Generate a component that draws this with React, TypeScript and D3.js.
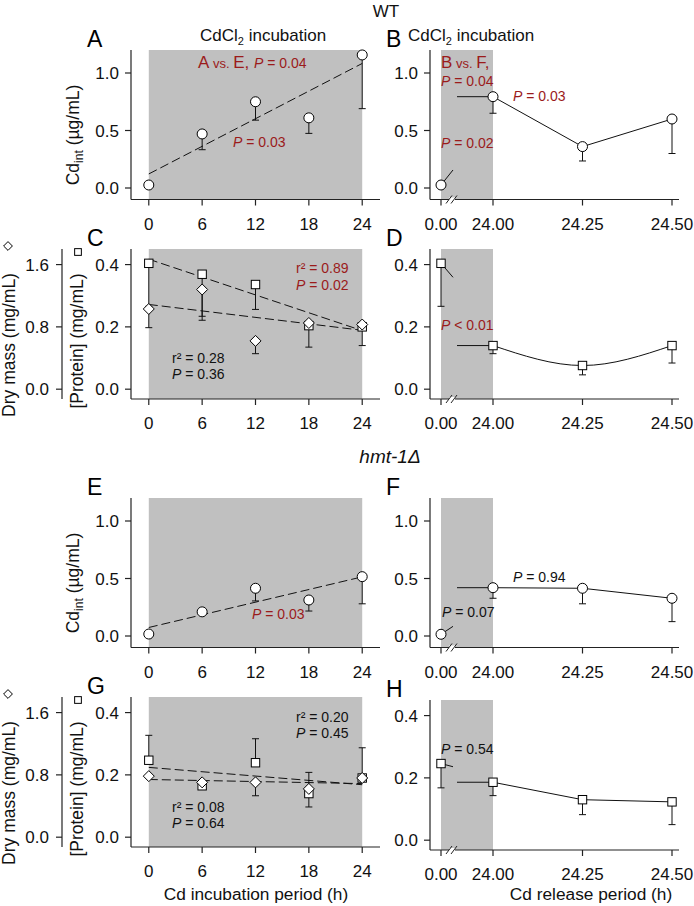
import React from 'react';
import * as d3 from 'd3';

// ---------- data ----------
const incTimes = [0, 6, 12, 18, 24];
const relTimes = [0, 24, 24.25, 24.5];
const incTicks = [0, 6, 12, 18, 24];
const relTicks = [0, 24, 24.25, 24.5];
const cdTicks = [0, 0.5, 1.0];
const proteinTicks = [0, 0.2, 0.4];
const dryTicks = [0, 0.8, 1.6];

// WT
const wtCdInc = [0.026, 0.47, 0.75, 0.61, 1.157];
const wtCdIncErr = [null, 0.333, 0.59, 0.475, 0.69];
const wtCdRel = [0.026, 0.794, 0.36, 0.6];
const wtCdRelErr = [null, 0.65, 0.235, 0.3];
const wtProtInc = [0.404, 0.369, 0.336, 0.204, 0.2];
const wtProtIncErr = [0.266, 0.234, 0.256, 0.135, 0.14];
const wtDryInc = [1.03, 1.28, 0.62, 0.85, 0.83];
const wtDryIncErr = [0.79, 0.885, 0.456, null, null];
const wtProtRel = [0.404, 0.14, 0.076, 0.14];
const wtProtRelErr = [0.266, 0.114, 0.046, 0.084];

// hmt-1Δ
const hmCdInc = [0.017, 0.21, 0.415, 0.313, 0.516];
const hmCdIncErr = [null, null, 0.305, 0.217, 0.28];
const hmCdRel = [0.015, 0.42, 0.415, 0.328];
const hmCdRelErr = [null, 0.328, 0.28, 0.125];
const hmProtInc = [0.247, 0.165, 0.239, 0.14, 0.19];
const hmProtIncErr = [0.327, null, 0.316, 0.097, null];
const hmDryInc = [0.784, 0.704, 0.704, 0.62, 0.76];
const hmDryIncErr = [null, null, 0.532, 0.832, 1.148];
const hmProtRel = [0.246, 0.186, 0.13, 0.123];
const hmProtRelErr = [0.168, 0.143, 0.082, 0.05];

const cdDomain: [number, number] = [-0.1, 1.2];
const protDomain: [number, number] = [-0.0315, 0.45];
const dryFactor = 4;

// ---------- styles ----------
const FONT = "'Liberation Sans', Arial, Helvetica, sans-serif";
const RED = '#9b1b1b';
const GRAY = '#c0c0c0';
const AX = '#222';
const TICK_FS = 17;
const NOTE_FS = 14;
const LABEL_FS = 17.5;

const xLeft = d3.scaleLinear().domain([-2, 26]).range([131, 380]);
const xRight = d3.scaleLinear().domain([0, 24, 24.5]).range([441, 493, 672]);

type Series = { values: number[]; err: (number | null)[]; type: 'circle' | 'square' | 'diamond'; dry?: boolean; regress?: boolean };
type Part = { t: string; s?: number; i?: boolean };
type Note = { x: number; y: number; color: string; parts: Part[] };

function linreg(xs: number[], ys: number[]) {
  const mx = d3.mean(xs)!;
  const my = d3.mean(ys)!;
  let sxy = 0, sxx = 0;
  xs.forEach((x, i) => { sxy += (x - mx) * (ys[i] - my); sxx += (x - mx) * (x - mx); });
  const b = sxy / sxx;
  return { a: my - b * mx, b };
}

function Marker({ type, x, y, small }: { type: string; x: number; y: number; small?: boolean }) {
  const k = small ? 0.8 : 1;
  if (type === 'circle') return <circle cx={x} cy={y} r={5} fill="#fff" stroke="#000" strokeWidth={1} />;
  if (type === 'square') { const h = 4.2 * k; return <rect x={x - h} y={y - h} width={2 * h} height={2 * h} fill="#fff" stroke="#000" strokeWidth={1} />; }
  const h = 5.5 * k;
  return <path d={`M${x},${y - h}L${x + h},${y}L${x},${y + h}L${x - h},${y}Z`} fill="#fff" stroke="#000" strokeWidth={1} />;
}

function NoteText({ n }: { n: Note }) {
  return (
    <text x={n.x} y={n.y} fill={n.color} fontSize={NOTE_FS} fontFamily={FONT}>
      {n.parts.map((p, i) => (
        <tspan key={i} fontSize={p.s ?? NOTE_FS} fontStyle={p.i ? 'italic' : 'normal'}>{p.t}</tspan>
      ))}
    </text>
  );
}

const pv = (v: string): Part[] => [{ t: 'P', i: true }, { t: v }];

type PanelProps = {
  side: 'left' | 'right';
  top: number;
  height: number;
  kind: 'cd' | 'prot';
  series: Series[];
  notes: Note[];
  letter: string;
  curve?: 'linear' | 'natural';
};

function Panel(p: PanelProps) {
  const left = p.side === 'left';
  const x = left ? xLeft : xRight;
  const axisX = left ? 131 : 430;
  const axisEnd = left ? 380 : 679;
  const bottom = p.top + p.height;
  const domain = p.kind === 'cd' ? cdDomain : protDomain;
  const y = d3.scaleLinear().domain(domain).range([bottom, p.top]);
  const yDry = d3.scaleLinear().domain([domain[0] * dryFactor, domain[1] * dryFactor]).range([bottom, p.top]);
  const xs = left ? incTimes : relTimes;
  const yTicks = p.kind === 'cd' ? cdTicks : proteinTicks;
  const yFmt = d3.format('.1f');
  const xTicks = left ? incTicks : relTicks;
  const xFmt = left ? (d: number) => String(d) : d3.format('.2f');

  const elements: React.ReactNode[] = [];

  // regression lines
  p.series.forEach((s, si) => {
    if (!s.regress) return;
    const ys = s.dry ? yDry : y;
    const { a, b } = linreg(xs, s.values);
    const line = d3.line<number>().x((t) => x(t)).y((t) => ys(a + b * t));
    elements.push(<path key={`reg${si}`} d={line([0, 24])!} fill="none" stroke="#111" strokeWidth={1} strokeDasharray="9,4" />);
  });

  // connecting lines (right panels)
  if (!left) {
    const s = p.series[0];
    const v = s.values;
    const stubT = 0.17;
    const stub = d3.line()([[x(0), y(v[0])], [453, y(v[0] + stubT * (v[1] - v[0]))]]);
    elements.push(<path key="stub" d={stub!} fill="none" stroke="#111" strokeWidth={1} />);
    const flat = d3.line()([[457, y(v[1])], [x(relTimes[1]), y(v[1])]]);
    elements.push(<path key="flat" d={flat!} fill="none" stroke="#111" strokeWidth={1} />);
    const rest = d3.line<number>()
      .x((_, i) => x(relTimes[i + 1]))
      .y((d) => y(d))
      .curve(p.curve === 'natural' ? d3.curveNatural : d3.curveLinear);
    elements.push(<path key="rest" d={rest(v.slice(1))!} fill="none" stroke="#111" strokeWidth={1} />);
  }

  // error bars
  p.series.forEach((s, si) => {
    const ys = s.dry ? yDry : y;
    s.err.forEach((e, i) => {
      if (e == null) return;
      const cx = x(xs[i]);
      elements.push(
        <g key={`err${si}-${i}`} stroke="#111" strokeWidth={1}>
          <line x1={cx} x2={cx} y1={ys(s.values[i])} y2={ys(e)} />
          <line x1={cx - 3.5} x2={cx + 3.5} y1={ys(e)} y2={ys(e)} />
        </g>
      );
    });
  });

  // markers
  p.series.forEach((s, si) => {
    const ys = s.dry ? yDry : y;
    s.values.forEach((v, i) => {
      elements.push(<Marker key={`m${si}-${i}`} type={s.type} x={x(xs[i])} y={ys(v)} />);
    });
  });

  return (
    <g>
      <rect x={x(0)} y={p.top} width={x(24) - x(0)} height={p.height} fill={GRAY} />
      {elements}
      {/* y axis */}
      <line x1={axisX} x2={axisX} y1={p.top} y2={bottom} stroke={AX} strokeWidth={1.2} />
      {yTicks.map((t) => (
        <g key={`yt${t}`}>
          <line x1={axisX - 6} x2={axisX} y1={y(t)} y2={y(t)} stroke={AX} strokeWidth={1.2} />
          <text x={axisX - 12} y={y(t) + 6} textAnchor="end" fontSize={TICK_FS} fontFamily={FONT} fill="#111">{yFmt(t)}</text>
        </g>
      ))}
      {/* dry mass axis */}
      {left && p.kind === 'prot' && (
        <g>
          <line x1={62} x2={62} y1={p.top} y2={bottom} stroke={AX} strokeWidth={1.2} />
          {dryTicks.map((t) => (
            <g key={`dt${t}`}>
              <line x1={56} x2={62} y1={yDry(t)} y2={yDry(t)} stroke={AX} strokeWidth={1.2} />
              <text x={49} y={yDry(t) + 6} textAnchor="end" fontSize={TICK_FS} fontFamily={FONT} fill="#111">{yFmt(t)}</text>
            </g>
          ))}
        </g>
      )}
      {/* x axis */}
      <line x1={axisX} x2={axisEnd} y1={bottom} y2={bottom} stroke={AX} strokeWidth={1.2} />
      {!left && (
        <g>
          <rect x={449} y={bottom - 2} width={6} height={4} fill="#fff" />
          <line x1={446} x2={452} y1={bottom + 4} y2={bottom - 4} stroke={AX} strokeWidth={1} />
          <line x1={451} x2={457} y1={bottom + 4} y2={bottom - 4} stroke={AX} strokeWidth={1} />
        </g>
      )}
      {xTicks.map((t) => (
        <g key={`xt${t}`}>
          <line x1={x(t)} x2={x(t)} y1={bottom} y2={bottom + 6} stroke={AX} strokeWidth={1.2} />
          <text x={x(t)} y={bottom + 30} textAnchor="middle" fontSize={TICK_FS} fontFamily={FONT} fill="#111">{xFmt(t)}</text>
        </g>
      ))}
      {/* letter */}
      <text x={left ? 87 : 386} y={p.top - 3} fontSize={23} fontFamily={FONT} fill="#000">{p.letter}</text>
      {p.notes.map((n, i) => <NoteText key={i} n={{ ...n, y: p.top + n.y }} />)}
    </g>
  );
}

function CdLabel({ top }: { top: number }) {
  return (
    <text transform={`translate(79,${top + 85}) rotate(-90)`} textAnchor="middle" fontSize={LABEL_FS} fontFamily={FONT} fill="#111">
      Cd<tspan fontSize={12} dy={4}>int</tspan><tspan dy={-4}> (µg/mL)</tspan>
    </text>
  );
}

function ProtLabels({ top }: { top: number }) {
  return (
    <g>
      <text transform={`translate(83,${top + 92}) rotate(-90)`} textAnchor="middle" fontSize={LABEL_FS} fontFamily={FONT} fill="#111">[Protein] (mg/mL)</text>
      <text transform={`translate(15,${top + 96}) rotate(-90)`} textAnchor="middle" fontSize={LABEL_FS} fontFamily={FONT} fill="#111">Dry mass (mg/mL)</text>
      <Marker type="diamond" x={8} y={top - 3} small />
      <Marker type="square" x={78} y={top + 3} small />
    </g>
  );
}

function Title({ x }: { x: number }) {
  return (
    <text x={x} y={41} fontSize={17} fontFamily={FONT} fill="#111">
      CdCl<tspan fontSize={11} dy={4}>2</tspan><tspan dy={-4}> incubation</tspan>
    </text>
  );
}

export default function App() {
  return (
    <svg width={694} height={906} style={{ position: 'absolute', left: 0, top: 0, background: '#fff' }}>
      <text x={386} y={17} textAnchor="middle" fontSize={17} fontFamily={FONT} fill="#111">WT</text>
      <text x={390} y={463} textAnchor="middle" fontSize={19} fontStyle="italic" fontFamily={FONT} fill="#111">hmt-1Δ</text>
      <Title x={200} />
      <Title x={408} />

      {/* A */}
      <Panel side="left" top={50} height={149.5} kind="cd" letter="A"
        series={[{ values: wtCdInc, err: wtCdIncErr, type: 'circle', regress: true }]}
        notes={[
          { x: 198, y: 18, color: RED, parts: [{ t: 'A', s: 17 }, { t: ' vs. ', s: 13 }, { t: 'E, ', s: 17 }, ...pv(' = 0.04')] },
          { x: 233, y: 97, color: RED, parts: pv(' = 0.03') },
        ]} />
      <CdLabel top={50} />

      {/* B */}
      <Panel side="right" top={50} height={149.5} kind="cd" letter="B" curve="linear"
        series={[{ values: wtCdRel, err: wtCdRelErr, type: 'circle' }]}
        notes={[
          { x: 441, y: 18, color: RED, parts: [{ t: 'B', s: 17 }, { t: ' vs. ', s: 13 }, { t: 'F,', s: 17 }] },
          { x: 441, y: 36, color: RED, parts: pv(' = 0.04') },
          { x: 513, y: 51, color: RED, parts: pv(' = 0.03') },
          { x: 441, y: 98, color: RED, parts: pv(' = 0.02') },
        ]} />

      {/* C */}
      <Panel side="left" top={249} height={150} kind="prot" letter="C"
        series={[
          { values: wtProtInc, err: wtProtIncErr, type: 'square', regress: true },
          { values: wtDryInc, err: wtDryIncErr, type: 'diamond', dry: true, regress: true },
        ]}
        notes={[
          { x: 296, y: 24, color: RED, parts: [{ t: 'r² = 0.89' }] },
          { x: 296, y: 41, color: RED, parts: pv(' = 0.02') },
          { x: 172, y: 114, color: '#111', parts: [{ t: 'r² = 0.28' }] },
          { x: 172, y: 130, color: '#111', parts: pv(' = 0.36') },
        ]} />
      <ProtLabels top={249} />

      {/* D */}
      <Panel side="right" top={249} height={150} kind="prot" letter="D" curve="natural"
        series={[{ values: wtProtRel, err: wtProtRelErr, type: 'square' }]}
        notes={[{ x: 441, y: 81, color: RED, parts: [{ t: 'P', i: true }, { t: ' < 0.01' }] }]} />

      {/* E */}
      <Panel side="left" top={498} height={149.5} kind="cd" letter="E"
        series={[{ values: hmCdInc, err: hmCdIncErr, type: 'circle', regress: true }]}
        notes={[{ x: 252, y: 121, color: RED, parts: pv(' = 0.03') }]} />
      <CdLabel top={498} />

      {/* F */}
      <Panel side="right" top={498} height={149.5} kind="cd" letter="F" curve="linear"
        series={[{ values: hmCdRel, err: hmCdRelErr, type: 'circle' }]}
        notes={[
          { x: 513, y: 84, color: '#111', parts: pv(' = 0.94') },
          { x: 442, y: 119, color: '#111', parts: pv(' = 0.07') },
        ]} />

      {/* G */}
      <Panel side="left" top={697} height={150} kind="prot" letter="G"
        series={[
          { values: hmProtInc, err: hmProtIncErr, type: 'square', regress: true },
          { values: hmDryInc, err: hmDryIncErr, type: 'diamond', dry: true, regress: true },
        ]}
        notes={[
          { x: 296, y: 25, color: '#111', parts: [{ t: 'r² = 0.20' }] },
          { x: 296, y: 41, color: '#111', parts: pv(' = 0.45') },
          { x: 172, y: 115, color: '#111', parts: [{ t: 'r² = 0.08' }] },
          { x: 172, y: 131, color: '#111', parts: pv(' = 0.64') },
        ]} />
      <ProtLabels top={697} />

      {/* H */}
      <Panel side="right" top={700} height={150} kind="prot" letter="H" curve="linear"
        series={[{ values: hmProtRel, err: hmProtRelErr, type: 'square' }]}
        notes={[{ x: 441, y: 54, color: '#111', parts: pv(' = 0.54') }]} />

      <text x={256} y={900} textAnchor="middle" fontSize={17.3} fontFamily={FONT} fill="#111">Cd incubation period (h)</text>
      <text x={591} y={900} textAnchor="middle" fontSize={17.3} fontFamily={FONT} fill="#111">Cd release period (h)</text>
    </svg>
  );
}
